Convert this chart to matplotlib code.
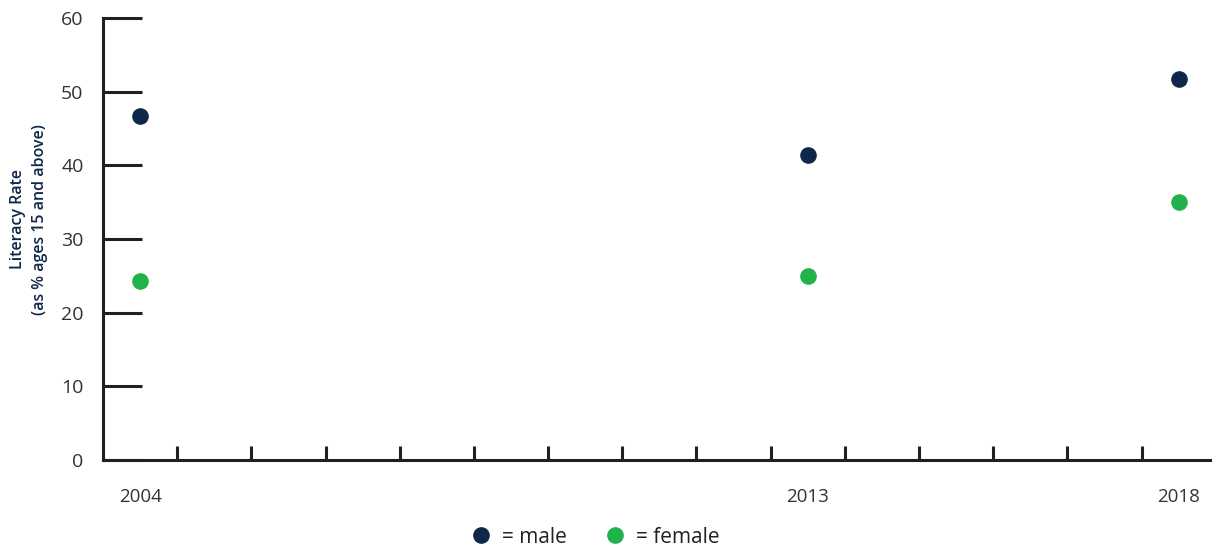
import matplotlib.pyplot as plt
from matplotlib.lines import Line2D

plt.rcParams['font.family'] = ['Open Sans', 'DejaVu Sans']

years = [2004, 2013, 2018]
male = [46.7, 41.4, 51.7]
female = [24.3, 25.0, 35.0]
year_labels = ['2004', '2013', '2018']

NAVY = '#0f2748'
GREEN = '#22b24c'
AXIS = '#231f20'

fig = plt.figure(figsize=(12.12, 5.46), dpi=100)
ax = fig.add_axes([0.085, 0.1575, 0.915, 0.8095])

ax.scatter(years, male, s=120, color=NAVY, zorder=3, clip_on=False)
ax.scatter(years, female, s=120, color=GREEN, zorder=3, clip_on=False)

ax.set_xlim(2003.5, 2018.45)
ax.set_ylim(0, 60)

for s in ['top', 'right']:
    ax.spines[s].set_visible(False)
for s in ['left', 'bottom']:
    ax.spines[s].set_linewidth(2.2)
    ax.spines[s].set_color(AXIS)

ax.set_yticks(range(0, 61, 10))
ax.tick_params(axis='y', direction='in', length=28, width=2.2, color=AXIS,
               labelsize=14, labelcolor='#333333', pad=14)

ax.set_xticks(years)
ax.set_xticklabels(year_labels)
ax.set_xticks([y + 0.5 for y in range(2004, 2018)], minor=True)
ax.tick_params(axis='x', which='major', length=0, labelsize=13.5,
               labelcolor='#333333', pad=20)
ax.tick_params(axis='x', which='minor', direction='in', length=10, width=2.2,
               color=AXIS)

ax.set_ylabel('Literacy Rate\n(as % ages 15 and above)', fontsize=11.5,
              color=NAVY, fontweight='semibold', linespacing=1.45)
ax.yaxis.set_label_coords(-0.05, 0.545)

handles = [
    Line2D([], [], marker='o', linestyle='', markersize=11, color=NAVY, label='= male'),
    Line2D([], [], marker='o', linestyle='', markersize=11, color=GREEN, label='= female'),
]
fig.legend(handles=handles, loc='center', bbox_to_anchor=(0.491, 0.016), ncol=2,
           frameon=False, fontsize=15, handletextpad=0.5, columnspacing=1.8,
           handlelength=1.0, labelcolor='#222222')

fig.savefig('out.png', dpi=100)
